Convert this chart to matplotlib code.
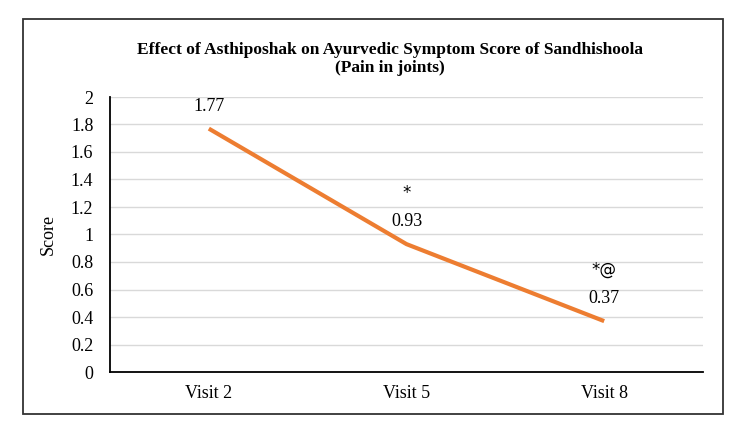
import matplotlib.pyplot as plt
from matplotlib.patches import Rectangle

# Data
visits = ["Visit 2", "Visit 5", "Visit 8"]
scores = [1.77, 0.93, 0.37]
value_labels = ["1.77", "0.93", "0.37"]
sig_marks = ["", "*", "*@"]
yticks = [0, 0.2, 0.4, 0.6, 0.8, 1, 1.2, 1.4, 1.6, 1.8, 2]
ytick_labels = ["0", "0.2", "0.4", "0.6", "0.8", "1", "1.2", "1.4", "1.6", "1.8", "2"]

plt.rcParams['font.family'] = ['Liberation Serif', 'DejaVu Serif']

fig = plt.figure(figsize=(7.5, 4.36), dpi=100)
# outer chart border
fig.patches.append(Rectangle((23 / 750, 22 / 436), 700 / 750, 395 / 436,
                             transform=fig.transFigure, fill=False,
                             edgecolor="#333333", linewidth=1.3))

ax = fig.add_axes([110 / 750, 64 / 436, 593 / 750, 275 / 436])
x = range(len(visits))
ax.plot(x, scores, color="#ED7D31", linewidth=3, solid_capstyle="butt")

for i, v in enumerate(scores):
    ax.annotate(value_labels[i], (i, v), xytext=(0, 16), textcoords="offset points",
                ha="center", va="center", fontsize=13)
    if sig_marks[i]:
        ax.annotate(sig_marks[i], (i, v), xytext=(0, 37), textcoords="offset points",
                    ha="center", va="center", fontsize=12, family="DejaVu Sans")

ax.set_xlim(-0.5, 2.5)
ax.set_ylim(0, 2)
ax.set_xticks(list(x))
ax.set_xticklabels(visits, fontsize=13)
ax.set_yticks(yticks)
ax.set_yticklabels(ytick_labels, fontsize=13)
ax.tick_params(axis="both", length=0)
ax.tick_params(axis="y", pad=12)
ax.tick_params(axis="x", pad=9)
ax.grid(axis="y", color="#d9d9d9", linewidth=1)
ax.set_axisbelow(True)
for s in ["top", "right"]:
    ax.spines[s].set_visible(False)
ax.spines["left"].set_color("black")
ax.spines["bottom"].set_color("black")
ax.spines["left"].set_linewidth(1.3)
ax.spines["bottom"].set_linewidth(1.3)

ax.set_ylabel("Score", fontsize=13, labelpad=10)

fig.text(390 / 750, 1 - 59 / 436,
         "Effect of Asthiposhak on Ayurvedic Symptom Score of Sandhishoola\n(Pain in joints)",
         ha="center", va="center", fontsize=12.5, fontweight="bold", linespacing=1.15)

fig.savefig("out.png", dpi=100)
